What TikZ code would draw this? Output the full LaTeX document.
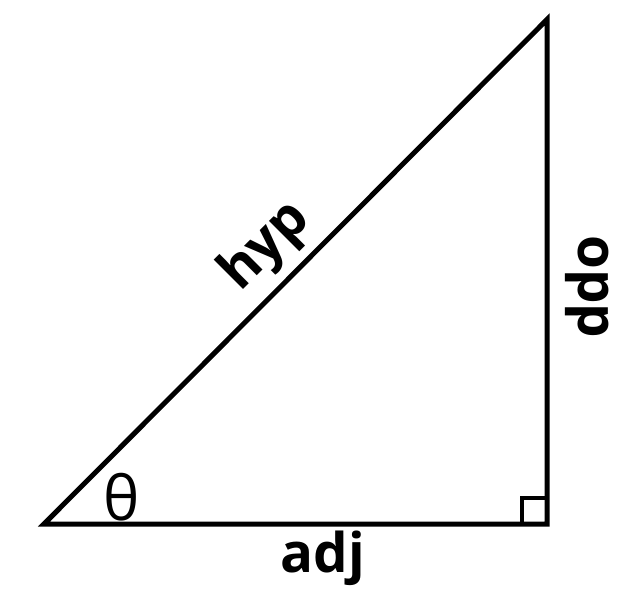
\documentclass[tikz,border=0pt]{standalone}
\usepackage{fontspec}
\setmainfont{Open Sans}
\usepackage{tikz}

\tikzset{
  side/.style={line width=3.75pt, line join=miter},
  lbl/.style={inner sep=0.75pt, font=\fontsize{41}{48}\selectfont\bfseries},
  anglbl/.style={inner sep=0.75pt, font=\fontsize{46}{52}\selectfont}
}

\begin{document}
\begin{tikzpicture}[x=0.75pt,y=0.75pt,yscale=-1,xscale=1]
        \useasboundingbox (0,0) rectangle (620,600);

        % Corners
        \coordinate (A) at (44,524);
        \coordinate (B) at (547,524);
        \coordinate (C) at (547,19.5);
        \coordinate (Q1) at (522,524);
        \coordinate (Q2) at (522,498);
        \coordinate (Q3) at (547,498);

        %Shape: Triangle
        \draw [side] (A) -- (B) -- (C) -- cycle ;
        %Right angle mark
        \draw [line width=3pt] (Q1) -- (Q2) -- (Q3) ;

        % Text Node
        \node [lbl, rotate=45] (hyp) at (266,247) {hyp};
        % Text Node
        \node [lbl, rotate=-90] (opp) at (587,287) {opp};
        % Text Node
        \node [lbl, anchor=base] (adj) at (323,572) {adj};
        % Text Node
        \node [anglbl] (theta) at (122,497) {θ};

\end{tikzpicture}
\end{document}
